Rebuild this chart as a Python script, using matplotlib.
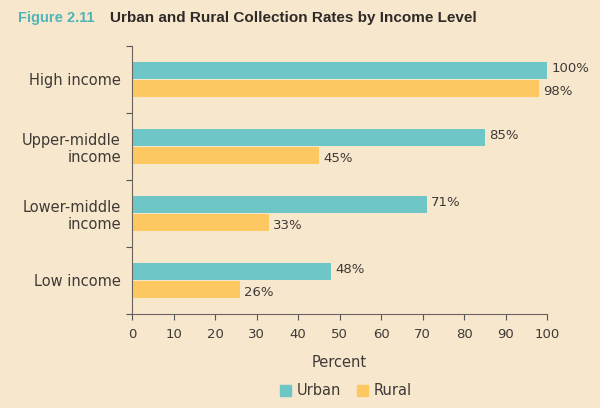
import numpy as np
import matplotlib.pyplot as plt
from matplotlib.patches import Patch

categories = ['High income', 'Upper-middle\nincome', 'Lower-middle\nincome', 'Low income']
urban = [100, 85, 71, 48]
rural = [98, 45, 33, 26]
xticks = [0, 10, 20, 30, 40, 50, 60, 70, 80, 90, 100]

bg = '#F7E7CD'
teal = '#6EC6C6'
gold = '#FDC862'
text_col = '#3f3a36'

plt.rcParams['font.family'] = ['DejaVu Sans']

fig = plt.figure(figsize=(6.0, 4.08), dpi=100, facecolor=bg)
ax = fig.add_axes([0.22, 0.2304, 0.6917, 0.6569])
ax.set_facecolor(bg)

y = np.arange(len(categories))
h = 0.26
ax.barh(y - h / 2 - 0.005, urban, height=h, color=teal, label='Urban')
ax.barh(y + h / 2 + 0.005, rural, height=h, color=gold, label='Rural')

# value labels at the end of each bar
for i in range(len(categories)):
    ax.text(urban[i] + 1.0, y[i] - h / 2 - 0.03, f'{urban[i]}%', va='center', ha='left',
            fontsize=9.5, color=text_col)
    ax.text(rural[i] + 1.0, y[i] + h / 2 + 0.05, f'{rural[i]}%', va='center', ha='left',
            fontsize=9.5, color=text_col)

ax.set_ylim(len(categories) - 0.5, -0.5)
ax.set_xlim(0, 100)
ax.set_yticks(np.arange(-0.5, len(categories)), labels=[''] * (len(categories) + 1))
ax.set_yticks(y, labels=categories, minor=True, ha='right', multialignment='right')
ax.tick_params(axis='y', which='minor', length=0, pad=8, labelsize=10.5, labelcolor=text_col)
ax.tick_params(axis='y', which='major', length=4, color='#555555')
ax.set_xticks(xticks)
ax.tick_params(axis='x', length=4, color='#555555', labelsize=9.5, labelcolor=text_col, pad=6)
ax.set_xlabel('Percent', fontsize=10.5, color=text_col, labelpad=10)

for side in ['top', 'right']:
    ax.spines[side].set_visible(False)
for side in ['left', 'bottom']:
    ax.spines[side].set_color('#6b6560')
    ax.spines[side].set_linewidth(0.8)

handles = [Patch(color=teal, label='Urban'), Patch(color=gold, label='Rural')]
fig.legend(handles=handles, loc='center', bbox_to_anchor=(0.577, 0.042), ncol=2, frameon=False,
           fontsize=10.5, labelcolor=text_col, handlelength=0.75, handleheight=0.75,
           handletextpad=0.4, columnspacing=1.1)

fig.text(0.03, 0.955, 'Figure 2.11', fontsize=10.5, fontweight='bold', color='#4FB4B8',
         va='center', family='Liberation Sans')
fig.text(0.183, 0.955, 'Urban and Rural Collection Rates by Income Level', fontsize=11,
         fontweight='bold', color='#2f2a27', va='center', family='Liberation Sans')

fig.savefig('out.png', dpi=100, facecolor=bg)
